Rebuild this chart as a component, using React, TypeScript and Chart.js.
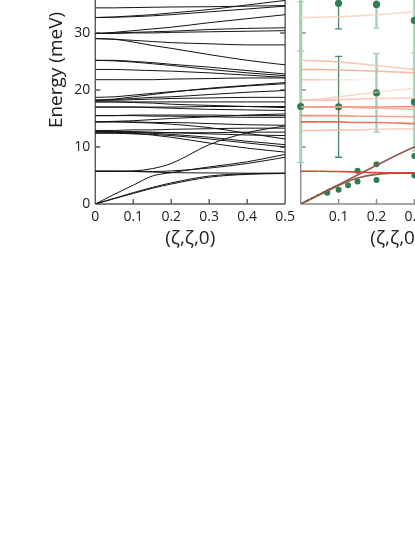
import React, { useEffect, useRef } from "react";
import { Chart, registerables } from "chart.js";

Chart.register(...registerables);

// ---------- data ----------
const ZETA = [0, 0.05, 0.1, 0.15, 0.2, 0.3, 0.4, 0.5];

// calculated phonon branches (meV) at ZETA
const BRANCHES: number[][] = [
  [0, 1.7, 3.3, 4.9, 5.5, 6.5, 7.4, 8.7],
  [0, 1.0, 2.0, 2.9, 3.7, 4.9, 5.3, 5.4],
  [0, 0.95, 1.85, 2.75, 3.5, 4.7, 5.2, 5.35],
  [5.75, 5.75, 5.8, 6.2, 7.1, 10.4, 12.5, 13.7],
  [5.75, 5.75, 5.75, 5.7, 5.8, 6.3, 7.1, 8.2],
  [5.75, 5.75, 5.7, 5.6, 5.5, 5.45, 5.4, 5.4],
  [12.7, 12.6, 12.4, 12.1, 11.7, 10.7, 9.8, 9.1],
  [12.7, 12.65, 12.55, 12.4, 12.2, 11.7, 11.0, 10.4],
  [12.4, 12.4, 12.3, 12.2, 12.0, 11.4, 10.7, 10.0],
  [12.7, 12.7, 12.7, 12.6, 12.5, 12.3, 12.1, 12.0],
  [12.5, 12.5, 12.5, 12.5, 12.5, 12.5, 12.6, 12.6],
  [12.9, 12.9, 13.0, 13.0, 13.1, 13.2, 13.3, 13.3],
  [14.4, 14.4, 14.3, 14.2, 14.0, 13.4, 12.4, 11.4],
  [14.4, 14.4, 14.4, 14.3, 14.3, 14.1, 13.9, 13.8],
  [15.5, 15.5, 15.5, 15.4, 15.4, 15.3, 15.2, 15.2],
  [15.5, 15.5, 15.6, 15.6, 15.6, 15.6, 15.5, 15.5],
  [14.4, 14.5, 14.6, 14.8, 15.0, 15.3, 15.6, 15.8],
  [17.0, 17.0, 17.0, 16.9, 16.8, 16.6, 16.5, 16.4],
  [17.0, 17.0, 17.0, 17.0, 17.0, 17.1, 17.1, 17.1],
  [17.9, 17.9, 17.8, 17.7, 17.5, 17.3, 17.1, 16.9],
  [17.9, 17.9, 17.9, 17.9, 17.9, 17.9, 17.9, 17.9],
  [18.2, 18.2, 18.3, 18.4, 18.5, 18.6, 18.7, 18.7],
  [18.2, 18.4, 18.8, 19.2, 19.6, 20.3, 20.8, 21.3],
  [18.7, 18.8, 19.1, 19.4, 19.7, 20.2, 20.7, 21.1],
  [18.2, 18.3, 18.5, 18.7, 18.8, 19.2, 19.6, 19.9],
  [21.8, 21.8, 21.8, 21.8, 21.9, 22.0, 22.1, 22.1],
  [23.6, 23.6, 23.5, 23.4, 23.3, 23.0, 22.6, 22.2],
  [25.2, 25.1, 24.9, 24.6, 24.3, 23.6, 23.0, 22.5],
  [25.2, 25.2, 25.0, 24.8, 24.5, 24.0, 23.4, 22.8],
  [29.0, 28.9, 28.4, 27.8, 27.3, 26.2, 25.2, 24.4],
  [29.0, 28.9, 28.7, 28.5, 28.3, 28.1, 27.9, 27.9],
  [29.9, 29.9, 30.0, 30.0, 30.1, 30.2, 30.3, 30.4],
  [29.9, 30.0, 30.1, 30.2, 30.3, 30.6, 30.8, 30.9],
  [29.9, 30.1, 30.4, 30.7, 31.0, 31.8, 32.5, 33.2],
  [32.7, 32.8, 33.0, 33.2, 33.5, 34.1, 34.9, 35.7],
  [32.7, 32.75, 32.85, 33.0, 33.2, 33.7, 34.2, 34.7],
  [34.4, 34.4, 34.45, 34.5, 34.55, 34.6, 34.7, 34.8],
];

// branches shown in the intensity-weighted (right) panel
const RIGHT_BRANCH_IDX = [35, 27, 26, 25, 22, 21, 17, 18, 14, 13, 11, 5];
// ζ at which each right-panel branch has faded out (intensity weighting)
const RIGHT_FADE_END = [2, 1.2, 1.0, 0.2, 0.6, 0.8, 0.9, 1.5, 1.0, 1.5, 0.7, 3];
// acoustic modes in the right panel (unsorted)
const LA_RIGHT = [0, 1.7, 3.4, 5.1, 6.8, 10.0, 12.3, 13.7];
const TA_RIGHT = [0, 1.6, 3.25, 4.55, 5.2, 5.45, 5.4, 5.4];

// measured peaks with error bars
const PEAK_ZETA = [0, 0, 0.1, 0.1, 0.2, 0.2, 0.3, 0.3];
const PEAK_E = [42, 17.1, 35.2, 17.05, 35.0, 19.5, 32.2, 17.9];
const PEAK_ERR_LO = [15.2, 9.8, 4.5, 8.85, 4.15, 6.9, 8.5, 8.6];
const PEAK_ERR_HI = [5, 18.4, 4.5, 8.85, 4.15, 6.9, 8.5, 8.6];

// measured low-energy peaks
const LOW_ZETA = [0.07, 0.1, 0.125, 0.15, 0.15, 0.2, 0.2, 0.3, 0.3];
const LOW_E = [1.96, 2.49, 3.3, 5.82, 3.95, 6.98, 4.21, 8.4, 5.0];

const X_TICKS = [0, 0.1, 0.2, 0.3, 0.4, 0.5];
const Y_TICKS = [0, 10, 20, 30];
const Y_MAX = 47;
const X_TITLE = "(ζ,ζ,0)";
const Y_TITLE = "Energy (meV)";

// ---------- styles ----------
const FONT = "'Open Sans', Lato, sans-serif";
const RIGHT_COLORS: [number, number, number][] = [
  [249, 211, 198], [247, 191, 174], [244, 170, 149], [246, 184, 166], [248, 202, 188], [246, 191, 174],
  [243, 164, 141], [238, 122, 96], [240, 139, 114], [233, 98, 75], [246, 187, 168], [226, 56, 42],
];
const BAR_STYLES: Record<string, { color: string; width: number }> = {
  "0": { color: "#a9cfb5", width: 3 },
  "0.1": { color: "#4a8a64", width: 1.3 },
  "0.2": { color: "#a9cfb5", width: 2.4 },
  "0.3": { color: "#a9cfb5", width: 2.4 },
};
const DOT = "#2f7d52";

const pts = (xs: number[], ys: number[]) => xs.map((x, i) => ({ x, y: ys[i] }));

const framePlugin = {
  id: "frame",
  beforeDatasetsDraw(chart: any, _a: any, opts: any) {
    const { ctx, chartArea: ca, scales } = chart;
    const xs = scales.x, ys = scales.y;
    ctx.save();
    ctx.strokeStyle = opts.color;
    ctx.lineWidth = opts.width;
    ctx.beginPath();
    const sides: string[] = opts.sides;
    if (sides.includes("left")) { ctx.moveTo(ca.left, ca.top); ctx.lineTo(ca.left, ca.bottom); }
    if (sides.includes("bottom")) { ctx.moveTo(ca.left, ca.bottom); ctx.lineTo(ca.right, ca.bottom); }
    if (sides.includes("right")) { ctx.moveTo(ca.right, ca.top); ctx.lineTo(ca.right, ca.bottom); }
    if (sides.includes("top")) { ctx.moveTo(ca.left, ca.top); ctx.lineTo(ca.right, ca.top); }
    ctx.stroke();
    const L = opts.tickLen;
    ctx.beginPath();
    X_TICKS.slice(1, -1).forEach((v) => {
      const px = xs.getPixelForValue(v);
      ctx.moveTo(px, ca.bottom); ctx.lineTo(px, ca.bottom - L);
      if (sides.includes("top")) { ctx.moveTo(px, ca.top); ctx.lineTo(px, ca.top + L); }
    });
    Y_TICKS.slice(1).forEach((v) => {
      const py = ys.getPixelForValue(v);
      ctx.moveTo(ca.left, py); ctx.lineTo(ca.left + L, py);
      if (sides.includes("right")) { ctx.moveTo(ca.right, py); ctx.lineTo(ca.right - L, py); }
    });
    ctx.stroke();
    if (opts.errorBars) {
      PEAK_ZETA.forEach((z, i) => {
        const st = BAR_STYLES[String(z)];
        const px = xs.getPixelForValue(z);
        const yt = ys.getPixelForValue(PEAK_E[i] + PEAK_ERR_HI[i]);
        const yb = ys.getPixelForValue(PEAK_E[i] - PEAK_ERR_LO[i]);
        ctx.strokeStyle = st.color;
        ctx.lineWidth = st.width;
        ctx.beginPath();
        ctx.moveTo(px, yt); ctx.lineTo(px, yb);
        ctx.stroke();
        ctx.lineWidth = 1.3;
        ctx.beginPath();
        ctx.moveTo(px - 3.5, yt); ctx.lineTo(px + 3.5, yt);
        ctx.moveTo(px - 3.5, yb); ctx.lineTo(px + 3.5, yb);
        ctx.stroke();
      });
    }
    ctx.restore();
  },
};

const fmt = (v: number) => String(Math.round(v * 10) / 10);

function baseOptions(right: boolean) {
  const tickFont = { family: FONT, size: 14 };
  const titleFont = { family: FONT, size: 19 };
  return {
    animation: false,
    responsive: false,
    layout: { padding: { top: 16, left: 0, right: right ? 11.8 : 12.5, bottom: 0 } },
    plugins: {
      legend: { display: false },
      tooltip: { enabled: false },
      frame: right
        ? { sides: ["left", "bottom"], color: "#8a8a8a", width: 1.4, tickLen: 5, errorBars: true }
        : { sides: ["left", "bottom", "right", "top"], color: "#5a5a5a", width: 1.4, tickLen: 5, errorBars: false },
    },
    scales: {
      x: {
        type: "linear",
        min: 0,
        max: 0.5,
        afterBuildTicks: (s: any) => { s.ticks = X_TICKS.map((v) => ({ value: v })); },
        afterFit: (s: any) => { s.height = 60; },
        ticks: {
          font: tickFont,
          color: "#222",
          padding: 5,
          autoSkip: false,
          maxRotation: 0,
          callback: (v: number) => (right && v === 0 ? "" : fmt(v)),
        },
        grid: { display: false, drawTicks: false },
        border: { display: false },
        title: { display: true, text: X_TITLE, font: titleFont, color: "#222", padding: { top: 0, bottom: 14 } },
      },
      y: {
        type: "linear",
        min: 0,
        max: Y_MAX,
        afterBuildTicks: (s: any) => { s.ticks = Y_TICKS.map((v) => ({ value: v })); },
        afterFit: (s: any) => { s.width = right ? 10.7 : 95.3; },
        ticks: { display: !right, font: tickFont, color: "#222", padding: 5 },
        grid: { display: false, drawTicks: false },
        border: { display: false },
        title: { display: !right, text: Y_TITLE, font: titleFont, color: "#222", padding: { top: 45, bottom: 0 } },
      },
    },
  };
}

const fadeColor = (rgb: [number, number, number], fadeEnd: number) => (ctx: any) => {
  const x = (ctx.p0.parsed.x + ctx.p1.parsed.x) / 2;
  const a = Math.max(0, 1 - x / fadeEnd);
  return `rgba(${rgb[0]},${rgb[1]},${rgb[2]},${a.toFixed(3)})`;
};

export default function App() {
  const leftRef = useRef<HTMLCanvasElement>(null);
  const rightRef = useRef<HTMLCanvasElement>(null);

  useEffect(() => {
    const left = new Chart(leftRef.current as HTMLCanvasElement, {
      type: "line",
      data: {
        datasets: BRANCHES.map((b) => ({
          data: pts(ZETA, b),
          borderColor: "#141414",
          borderWidth: 1,
          pointRadius: 0,
          cubicInterpolationMode: "monotone",
          fill: false,
        })),
      },
      options: baseOptions(false) as any,
      plugins: [framePlugin],
    });

    const laDash = ZETA.map((z, i) => ({ x: z, y: LA_RIGHT[i] })).filter((p) => p.x <= 0.1);
    const right = new Chart(rightRef.current as HTMLCanvasElement, {
      type: "line",
      data: {
        datasets: [
          ...RIGHT_BRANCH_IDX.map((bi, k) => ({
            data: pts(ZETA, BRANCHES[bi]),
            borderColor: `rgb(${RIGHT_COLORS[k].join(",")})`,
            segment: { borderColor: fadeColor(RIGHT_COLORS[k], RIGHT_FADE_END[k]) },
            borderWidth: 1.6,
            pointRadius: 0,
            cubicInterpolationMode: "monotone",
            fill: false,
          })),
          { data: pts(ZETA, LA_RIGHT), borderColor: "#8e5a4c", borderWidth: 1.6, pointRadius: 0, cubicInterpolationMode: "monotone", fill: false },
          { data: pts(ZETA, TA_RIGHT), borderColor: "#8e5a4c", borderWidth: 1.6, pointRadius: 0, cubicInterpolationMode: "monotone", fill: false },
          { data: laDash, borderColor: "#111", borderWidth: 1.6, borderDash: [3, 3], pointRadius: 0, fill: false },
          { data: pts(PEAK_ZETA, PEAK_E), showLine: false, pointRadius: 3.6, pointBackgroundColor: DOT, pointBorderWidth: 0, clip: false },
          { data: pts(LOW_ZETA, LOW_E), showLine: false, pointRadius: 3, pointBackgroundColor: DOT, pointBorderWidth: 0, clip: false },
        ],
      },
      options: baseOptions(true) as any,
      plugins: [framePlugin],
    });
    return () => { left.destroy(); right.destroy(); };
  }, []);

  return (
    <div style={{ position: "fixed", left: 0, top: 0, width: 415, height: 537, overflow: "hidden", background: "#fff" }}>
      <canvas ref={leftRef} width={300} height={344} style={{ position: "absolute", left: 0, top: -80 }} />
      <canvas ref={rightRef} width={215} height={344} style={{ position: "absolute", left: 290, top: -80 }} />
    </div>
  );
}
